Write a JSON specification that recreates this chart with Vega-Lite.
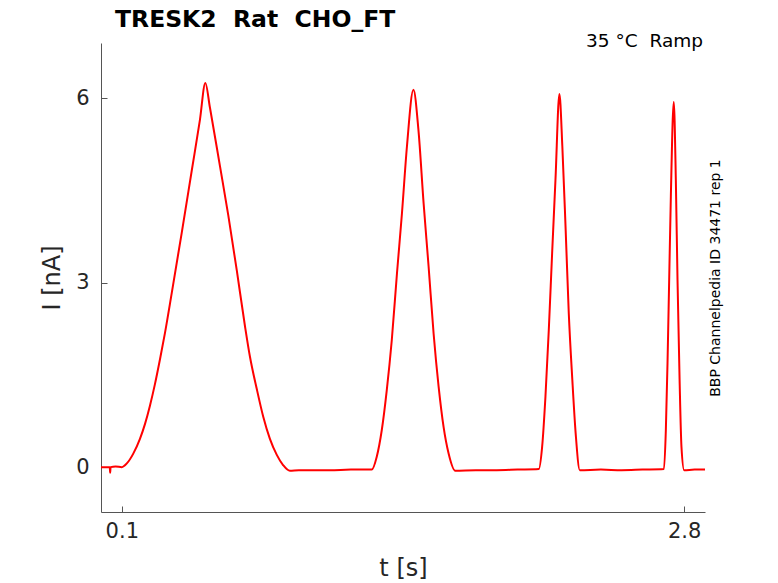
{
  "$schema": "https://vega.github.io/schema/vega-lite/v6.json",
  "width": 604,
  "height": 469,
  "autosize": {"type": "none"},
  "padding": {"left": 101, "top": 43, "right": 73, "bottom": 71},
  "background": "white",
  "title": {
    "text": "TRESK2\u00a0\u00a0Rat\u00a0\u00a0CHO_FT",
    "anchor": "start",
    "frame": "group",
    "dx": 14,
    "offset": 0,
    "font": "DejaVu Sans",
    "fontSize": 23.5,
    "fontWeight": "bold",
    "color": "black"
  },
  "config": {
    "font": "DejaVu Sans",
    "view": {"stroke": null},
    "axis": {
      "domainColor": "#555555",
      "tickColor": "#555555",
      "labelColor": "#262626",
      "titleColor": "#262626",
      "labelFont": "DejaVu Sans",
      "titleFont": "DejaVu Sans",
      "labelFontSize": 21,
      "titleFontSize": 24,
      "titleFontWeight": "normal",
      "grid": false,
      "tickSize": -6
    }
  },
  "data": {
    "values": [
      {"t": 0.0, "I": 0.0},
      {"t": 0.03, "I": 0.0},
      {"t": 0.042, "I": 0.0},
      {"t": 0.044, "I": -0.09},
      {"t": 0.046, "I": 0.0},
      {"t": 0.07, "I": 0.01},
      {"t": 0.1, "I": 0.0},
      {"t": 0.124, "I": 0.06},
      {"t": 0.155, "I": 0.22},
      {"t": 0.187, "I": 0.46},
      {"t": 0.211, "I": 0.7},
      {"t": 0.235, "I": 1.0},
      {"t": 0.259, "I": 1.35},
      {"t": 0.283, "I": 1.75},
      {"t": 0.307, "I": 2.18},
      {"t": 0.34, "I": 2.84},
      {"t": 0.388, "I": 3.82},
      {"t": 0.436, "I": 4.83},
      {"t": 0.475, "I": 5.65},
      {"t": 0.501, "I": 6.25},
      {"t": 0.523, "I": 5.85},
      {"t": 0.571, "I": 4.9},
      {"t": 0.611, "I": 4.1},
      {"t": 0.652, "I": 3.2},
      {"t": 0.691, "I": 2.3},
      {"t": 0.715, "I": 1.8},
      {"t": 0.748, "I": 1.27},
      {"t": 0.779, "I": 0.82},
      {"t": 0.811, "I": 0.46},
      {"t": 0.844, "I": 0.2},
      {"t": 0.875, "I": 0.03},
      {"t": 0.907, "I": -0.06},
      {"t": 0.95, "I": -0.05},
      {"t": 1.0, "I": -0.05},
      {"t": 1.1, "I": -0.05},
      {"t": 1.2, "I": -0.04},
      {"t": 1.3, "I": -0.04},
      {"t": 1.324, "I": 0.17},
      {"t": 1.348, "I": 0.6},
      {"t": 1.372, "I": 1.25},
      {"t": 1.396, "I": 2.06},
      {"t": 1.421, "I": 3.15},
      {"t": 1.445, "I": 4.13},
      {"t": 1.469, "I": 5.22},
      {"t": 1.5, "I": 6.14},
      {"t": 1.524, "I": 5.49},
      {"t": 1.549, "I": 4.29},
      {"t": 1.573, "I": 3.26},
      {"t": 1.597, "I": 2.17},
      {"t": 1.621, "I": 1.31},
      {"t": 1.645, "I": 0.65},
      {"t": 1.669, "I": 0.22},
      {"t": 1.701, "I": -0.06},
      {"t": 1.8, "I": -0.05},
      {"t": 1.9, "I": -0.05},
      {"t": 2.0, "I": -0.04},
      {"t": 2.102, "I": -0.03},
      {"t": 2.118, "I": 0.33},
      {"t": 2.134, "I": 1.15},
      {"t": 2.15, "I": 2.23},
      {"t": 2.166, "I": 3.48},
      {"t": 2.182, "I": 4.67},
      {"t": 2.201, "I": 6.07},
      {"t": 2.215, "I": 5.22},
      {"t": 2.231, "I": 3.86},
      {"t": 2.246, "I": 2.5},
      {"t": 2.263, "I": 1.42},
      {"t": 2.279, "I": 0.55},
      {"t": 2.299, "I": -0.05},
      {"t": 2.4, "I": -0.04},
      {"t": 2.5, "I": -0.05},
      {"t": 2.6, "I": -0.04},
      {"t": 2.703, "I": -0.03},
      {"t": 2.712, "I": 0.6},
      {"t": 2.72, "I": 1.69},
      {"t": 2.728, "I": 3.05},
      {"t": 2.736, "I": 4.4},
      {"t": 2.75, "I": 5.94},
      {"t": 2.76, "I": 4.67},
      {"t": 2.768, "I": 3.05},
      {"t": 2.778, "I": 1.42},
      {"t": 2.787, "I": 0.33},
      {"t": 2.8, "I": -0.05},
      {"t": 2.85, "I": -0.04},
      {"t": 2.9, "I": -0.04}
    ]
  },
  "layer": [
    {
      "mark": {"type": "line", "color": "#ff0000", "strokeWidth": 2, "interpolate": "monotone"},
      "encoding": {
        "x": {
          "field": "t",
          "type": "quantitative",
          "title": "t [s]",
          "scale": {"domain": [0, 2.9], "nice": false, "zero": false},
          "axis": {"values": [0.1, 2.8], "format": ".1f", "labelPadding": 14, "titlePadding": 15}
        },
        "y": {
          "field": "I",
          "type": "quantitative",
          "title": "I [nA]",
          "scale": {"domain": [-0.73, 6.9], "nice": false, "zero": false},
          "axis": {"values": [0, 3, 6], "labelPadding": 18, "titlePadding": 11}
        }
      }
    },
    {
      "data": {"values": [{"label": "35\u00a0°C\u00a0\u00a0Ramp"}]},
      "mark": {"type": "text", "align": "right", "baseline": "middle", "fontSize": 18.5, "color": "black", "dx": -2},
      "encoding": {
        "x": {"datum": 2.9, "type": "quantitative"},
        "y": {
          "datum": 6.94,
          "type": "quantitative",
          "axis": {
            "orient": "right",
            "title": "BBP Channelpedia ID 34471 rep 1",
            "titleAngle": 270,
            "titleFontSize": 14,
            "titleColor": "black",
            "titlePadding": 17,
            "labels": false,
            "ticks": false,
            "domain": false
          }
        },
        "text": {"field": "label"}
      }
    }
  ],
  "resolve": {"axis": {"y": "independent"}}
}
